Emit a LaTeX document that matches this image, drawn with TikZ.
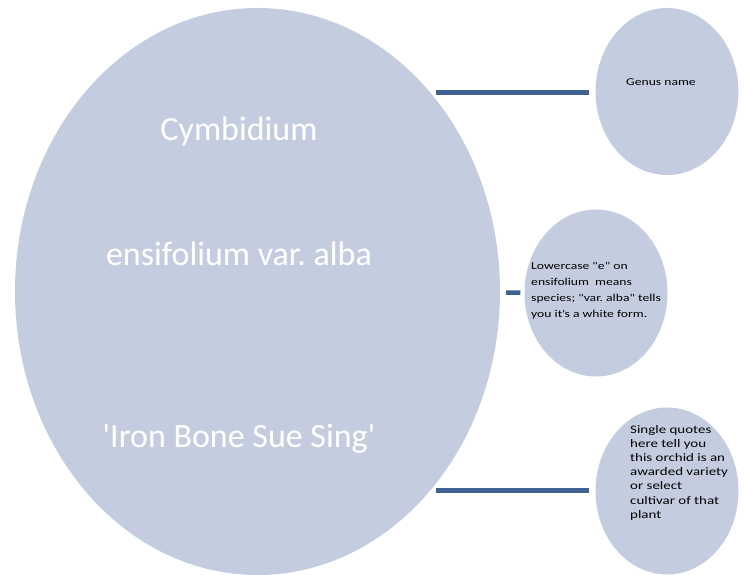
\documentclass[tikz,border=0pt]{standalone}
\usepackage{fontspec}
\setmainfont{Carlito}
\newfontfamily\notefont[FakeStretch=1.3]{Carlito}
\usepackage{tikz}
\usetikzlibrary{shapes.geometric}
\frenchspacing
\definecolor{orbfill}{RGB}{196,205,224}
\definecolor{linkblue}{RGB}{62,98,148}
\tikzset{
  orb/.style = {ellipse, fill=orbfill, draw=none, inner sep=0pt},
  orb_big/.style = {orb, minimum width=485pt, minimum height=567pt},% grande ellipse
  orb_note/.style = {orb, minimum width=143pt, minimum height=167pt},% petites ellipses
  txt_big/.style = {white, anchor=base, inner sep=0pt,
    font=\fontsize{34}{40}\selectfont},
  txt_note/.style = {black, align=left, anchor=north west, inner sep=0pt,
    font=\notefont\fontsize{10.5}{14.2}\selectfont},
  link/.style = {draw=linkblue, line width=4.5pt, shorten <=6pt, shorten >=6pt}
}

\begin{document}
\begin{tikzpicture}[x=1pt,y=-1pt]
\useasboundingbox (0,0) rectangle (744,575);
% les ellipses
\node [orb_big] (plant) at (257.5,291.5) {};
\node [orb_note] (genus) at (667,91.5) {};
\node [orb_note] (species) at (596,293) {};
\node [orb_note] (cultivar) at (667,491) {};
% le nom
\node [txt_big] (name_genus) at (239,141) {Cymbidium};
\node [txt_big] (name_species) at (239,265) {ensifolium var. alba};
\node [txt_big] (name_cultivar) at (239,447)
  {\textquotesingle Iron Bone Sue Sing\textquotesingle};
% les notes
\node [txt_note, anchor=base west] (genus_txt) at (626,86) {Genus name};
\node [txt_note, font=\notefont\fontsize{10.5}{16}\selectfont] (species_txt)
  at (531,262.5) {Lowercase "e" on\\ensifolium \ means\\species; "var. alba" tells\\you it\textquotesingle s a white form.};
\node [txt_note, font=\notefont\fontsize{11.5}{14.2}\selectfont] (cultivar_txt)
  at (630,425)
  {Single quotes\\here tell you\\this orchid is an\\awarded variety\\or select\\cultivar of that\\plant};
% les liens
\draw [link] (plant.49.5) -- (plant.49.5 -| genus.west);
\draw [link, shorten >=4pt] (plant) -- (species);
\draw [link] (plant.-49.8) -- (plant.-49.8 -| cultivar.west);
\end{tikzpicture}
\end{document}
